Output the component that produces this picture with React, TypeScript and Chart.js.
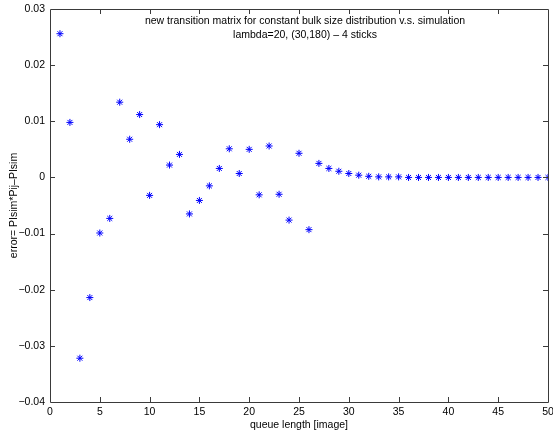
import React, { useEffect, useRef } from "react";
import { Chart, registerables } from "chart.js";

Chart.register(...registerables);

const queueLengths: number[] = [
  1, 2, 3, 4, 5, 6, 7, 8, 9, 10,
  11, 12, 13, 14, 15, 16, 17, 18, 19, 20,
  21, 22, 23, 24, 25, 26, 27, 28, 29, 30,
  31, 32, 33, 34, 35, 36, 37, 38, 39, 40,
  41, 42, 43, 44, 45, 46, 47, 48, 49, 50,
];

const errorValues: number[] = [
  0.0256, 0.0098, -0.0322, -0.0214, -0.0099, -0.0073, 0.0134, 0.0068, 0.0112, -0.0032,
  0.0094, 0.0022, 0.0041, -0.0065, -0.0041, -0.0015, 0.0016, 0.0051, 0.0007, 0.005,
  -0.0031, 0.0056, -0.003, -0.0076, 0.0043, -0.0093, 0.0025, 0.0016, 0.0011, 0.0007,
  0.0004, 0.0002, 0.0001, 0.0001, 0.0001, 0.0, 0.0, 0.0, 0.0, 0.0,
  0.0, 0.0, 0.0, 0.0, 0.0, 0.0, 0.0, 0.0, 0.0, 0.0,
];

const titleLines: string[] = [
  "new transition matrix for constant bulk size distribution v.s. simulation",
  "lambda=20, (30,180) \u2013 4 sticks",
];

const xLabel = "queue length [image]";
const yLabel = "error= PIsim*Pij\u2013PIsim";

const xMin = 0;
const xMax = 50;
const xStep = 5;
const yMin = -0.04;
const yMax = 0.03;
const yStep = 0.01;

const FONT = "'Liberation Sans', Arial, Helvetica, sans-serif";

const fmtY = (v: number): string => {
  const r = Math.round(v * 1000) / 1000;
  if (r === 0) return "0";
  const s = Math.abs(r).toFixed(2);
  return (r < 0 ? "\u2212" : "") + s;
};

const boxPlugin = {
  id: "matlabBox",
  afterDraw(chart: any) {
    const { ctx, chartArea, scales } = chart;
    const { left, right, top, bottom } = chartArea;
    ctx.save();
    ctx.strokeStyle = "#3a3a3a";
    ctx.lineWidth = 1;
    ctx.beginPath();
    ctx.rect(Math.round(left) + 0.5, Math.round(top) + 0.5, Math.round(right - left), Math.round(bottom - top));
    ctx.stroke();
    const tl = 5;
    ctx.beginPath();
    for (let v = xMin + xStep; v < xMax; v += xStep) {
      const px = Math.round(scales.x.getPixelForValue(v)) + 0.5;
      ctx.moveTo(px, bottom);
      ctx.lineTo(px, bottom - tl);
      ctx.moveTo(px, top);
      ctx.lineTo(px, top + tl);
    }
    for (let i = 1; i < Math.round((yMax - yMin) / yStep); i++) {
      const v = yMin + i * yStep;
      const py = Math.round(scales.y.getPixelForValue(v)) + 0.5;
      ctx.moveTo(left, py);
      ctx.lineTo(left + tl, py);
      ctx.moveTo(right, py);
      ctx.lineTo(right - tl, py);
    }
    ctx.stroke();
    ctx.fillStyle = "#000";
    ctx.font = `10.5px ${FONT}`;
    ctx.textAlign = "center";
    ctx.textBaseline = "middle";
    ctx.fillText(titleLines[0], 305, 21);
    ctx.fillText(titleLines[1], 305, 35);
    ctx.restore();
  },
};

export default function App() {
  const canvasRef = useRef<HTMLCanvasElement | null>(null);

  useEffect(() => {
    if (!canvasRef.current) return;
    const data = queueLengths.map((x, i) => ({ x, y: errorValues[i] }));
    const chart = new Chart(canvasRef.current, {
      type: "scatter",
      data: {
        datasets: [
          {
            data,
            pointStyle: "star",
            pointRadius: 3.5,
            pointBorderWidth: 1,
            borderColor: "#0000ff",
            backgroundColor: "#0000ff",
            showLine: false,
          },
        ],
      },
      options: {
        responsive: false,
        animation: false,
        events: [],
        layout: { padding: { left: 0, top: 9, right: 4, bottom: 0 } },
        plugins: {
          legend: { display: false },
          tooltip: { enabled: false },
          title: { display: false },
        },
        scales: {
          x: {
            type: "linear",
            min: xMin,
            max: xMax,
            grid: { display: false, drawTicks: false },
            border: { display: false },
            ticks: {
              stepSize: xStep,
              autoSkip: false,
              maxRotation: 0,
              padding: 4,
              color: "#000",
              font: { family: FONT, size: 10.5 },
            },
            title: {
              display: true,
              text: xLabel,
              color: "#000",
              font: { family: FONT, size: 10.5 },
              padding: { top: 0, bottom: 4 },
            },
            afterFit: (s: any) => {
              s.height = 33;
              s.paddingLeft = 0;
              s.paddingRight = 0;
            },
          },
          y: {
            type: "linear",
            min: yMin,
            max: yMax,
            grid: { display: false, drawTicks: false },
            border: { display: false },
            ticks: {
              stepSize: yStep,
              autoSkip: false,
              padding: 5,
              color: "#000",
              font: { family: FONT, size: 10.5 },
              callback: (v: any) => fmtY(Number(v)),
            },
            title: {
              display: true,
              text: yLabel,
              color: "#000",
              font: { family: FONT, size: 10.5 },
              padding: { top: 8, bottom: 0 },
            },
            afterFit: (s: any) => {
              s.width = 50;
              s.paddingTop = 0;
              s.paddingBottom = 0;
            },
          },
        },
      },
      plugins: [boxPlugin],
    });
    return () => chart.destroy();
  }, []);

  return (
    <div style={{ position: "fixed", left: 0, top: 0, width: 553, height: 435, background: "#fff" }}>
      <canvas ref={canvasRef} width={553} height={435} style={{ display: "block" }} />
    </div>
  );
}
